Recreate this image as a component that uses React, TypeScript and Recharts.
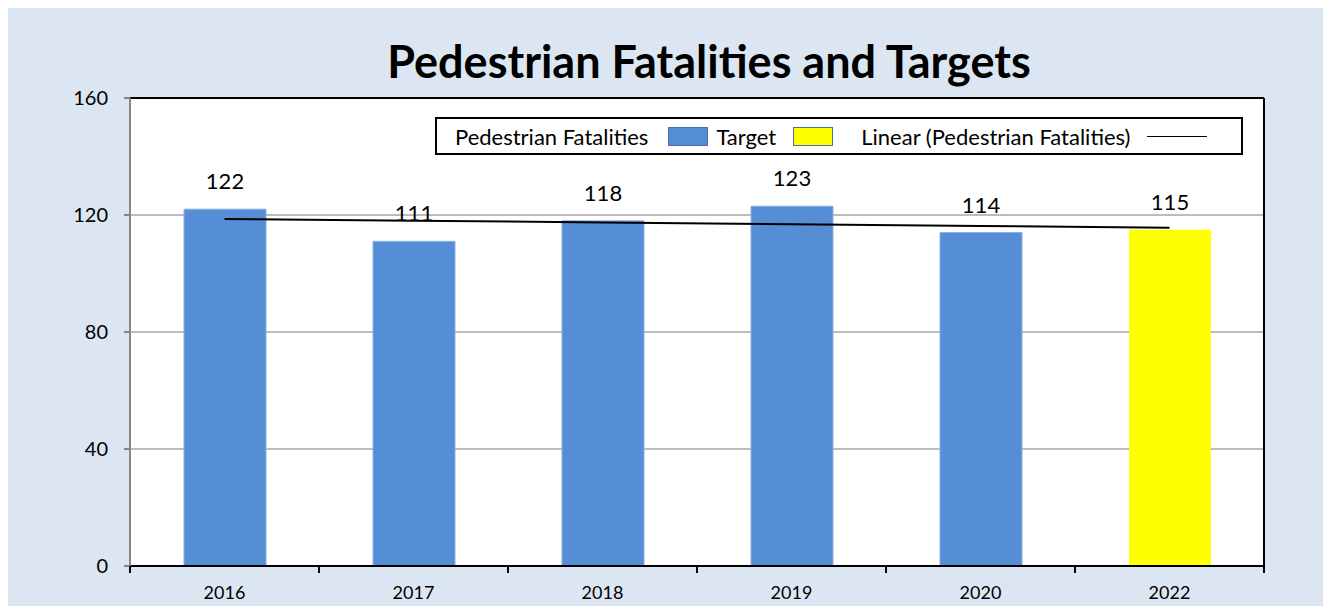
import React from "react";
import {
  ComposedChart,
  Bar,
  Line,
  XAxis,
  YAxis,
  CartesianGrid,
  ReferenceLine,
  LabelList,
  Legend,
} from "recharts";

// values
const years = ["2016", "2017", "2018", "2019", "2020", "2022"];
const fatalities = [122, 111, 118, 123, 114, null];
const targets = [null, null, null, null, null, 115];
const yTicks = [0, 40, 80, 120, 160];

// least squares trend over all plotted points, like Excel's linear trendline
const allValues = years.map((_, i) => (fatalities[i] ?? targets[i]) as number);
const n = allValues.length;
const meanX = (n + 1) / 2;
const meanY = allValues.reduce((a, b) => a + b, 0) / n;
let sxy = 0;
let sxx = 0;
allValues.forEach((v, i) => {
  sxy += (i + 1 - meanX) * (v - meanY);
  sxx += (i + 1 - meanX) ** 2;
});
const slope = sxy / sxx;

const data = years.map((year, i) => ({
  year,
  fatalities: fatalities[i],
  target: targets[i],
  trend: meanY + slope * (i + 1 - meanX),
}));

const FONT = "Lato, 'Open Sans', sans-serif";
const TICK_MARGIN = 20;

// category label plus Excel style tick marks between the categories
const YearTick = ({ x, y, payload, index, visibleTicksCount }: any) => {
  const half = payload && typeof payload.offset === "number" ? payload.offset : null;
  const top = y - TICK_MARGIN;
  return (
    <g>
      {half != null && (
        <line x1={x - half} x2={x - half} y1={top} y2={top + 7} stroke="#000" strokeWidth={2} />
      )}
      {half != null && index === visibleTicksCount - 1 && (
        <line x1={x + half} x2={x + half} y1={top} y2={top + 7} stroke="#000" strokeWidth={2} />
      )}
      <text x={x} y={y} dy="0.71em" textAnchor="middle" fill="#000" fontSize={18} fontFamily={FONT}>
        {payload.value}
      </text>
    </g>
  );
};

// Excel style legend: label first, then its key; bars before the trendline
const LegendBox = ({ payload }: any) => {
  const items = [...(payload || [])].sort(
    (a: any, b: any) => (a.type === "line" ? 1 : 0) - (b.type === "line" ? 1 : 0)
  );
  const textGap = [0, 8, 28];
  const keyGap = [20, 17, 16];
  return (
    <div
      style={{
        border: "2px solid #000",
        background: "#fff",
        height: 38,
        boxSizing: "border-box",
        display: "flex",
        alignItems: "center",
        paddingLeft: 18,
        fontFamily: FONT,
        fontSize: 22,
        color: "#000",
      }}
    >
      {items.map((it: any, i: number) => (
        <div key={i} style={{ display: "flex", alignItems: "center" }}>
          <span style={{ marginLeft: textGap[i] }}>{it.value}</span>
          {it.type === "line" ? (
            <span
              style={{
                display: "inline-block",
                width: 60,
                height: 0,
                borderTop: "1.5px solid #000",
                marginLeft: keyGap[i],
              }}
            />
          ) : (
            <span
              style={{
                display: "inline-block",
                width: 40,
                height: 19,
                boxSizing: "border-box",
                background: it.color,
                border: "1px solid #4a6fa0",
                marginLeft: keyGap[i],
              }}
            />
          )}
        </div>
      ))}
    </div>
  );
};

export default function App() {
  return (
    <div style={{ position: "relative", width: 1323, height: 598, background: "#dce6f2" }}>
      <div
        style={{
          position: "absolute",
          left: 134,
          width: 1134,
          top: 26,
          textAlign: "center",
          fontFamily: FONT,
          fontWeight: 700,
          fontSize: 45,
          lineHeight: "54px",
          color: "#000",
        }}
      >
        Pedestrian Fatalities and Targets
      </div>
      <ComposedChart
        width={1323}
        height={598}
        data={data}
        margin={{ top: 90, right: 67, bottom: 0, left: 0 }}
        style={{ position: "absolute", left: 0, top: 0 }}
      >
        <CartesianGrid vertical={false} stroke="#a6a6a6" strokeWidth={1.5} fill="#fff" />
        {/* right edge of the plot frame */}
        <CartesianGrid
          horizontal={false}
          stroke="#000"
          strokeWidth={2}
          verticalCoordinatesGenerator={({ offset }: any) => [offset.left + offset.width]}
        />
        <XAxis
          dataKey="year"
          height={40}
          axisLine={{ stroke: "#000", strokeWidth: 2 }}
          tickLine={false}
          tickSize={0}
          tickMargin={TICK_MARGIN}
          interval={0}
          tick={<YearTick />}
        />
        <YAxis
          domain={[0, 160]}
          ticks={yTicks}
          width={122}
          tickSize={6}
          tickMargin={16}
          axisLine={{ stroke: "#868686", strokeWidth: 2 }}
          tickLine={{ stroke: "#868686", strokeWidth: 2 }}
          tick={{ fill: "#000", fontSize: 20, fontFamily: FONT }}
        />
        <ReferenceLine y={160} stroke="#000" strokeWidth={2} />
        <Legend
          verticalAlign="middle"
          align="center"
          layout="horizontal"
          content={<LegendBox />}
          wrapperStyle={{ position: "absolute", left: 427, top: 109, width: 808, height: 38 }}
        />
        <Bar
          dataKey="fatalities"
          name="Pedestrian Fatalities"
          stackId="a"
          barSize={82}
          fill="#558ed5"
          stroke="#8db0e0"
          strokeWidth={1}
          isAnimationActive={false}
        >
          <LabelList dataKey="fatalities" position="top" offset={20} fill="#000" fontSize={22} fontFamily={FONT} />
        </Bar>
        <Bar
          dataKey="target"
          name="Target"
          stackId="a"
          barSize={82}
          fill="#ffff00"
          isAnimationActive={false}
        >
          <LabelList dataKey="target" position="top" offset={20} fill="#000" fontSize={22} fontFamily={FONT} />
        </Bar>
        <Line
          dataKey="trend"
          name="Linear (Pedestrian Fatalities)"
          type="linear"
          stroke="#000"
          strokeWidth={2}
          dot={false}
          legendType="line"
          isAnimationActive={false}
        />
      </ComposedChart>
    </div>
  );
}
